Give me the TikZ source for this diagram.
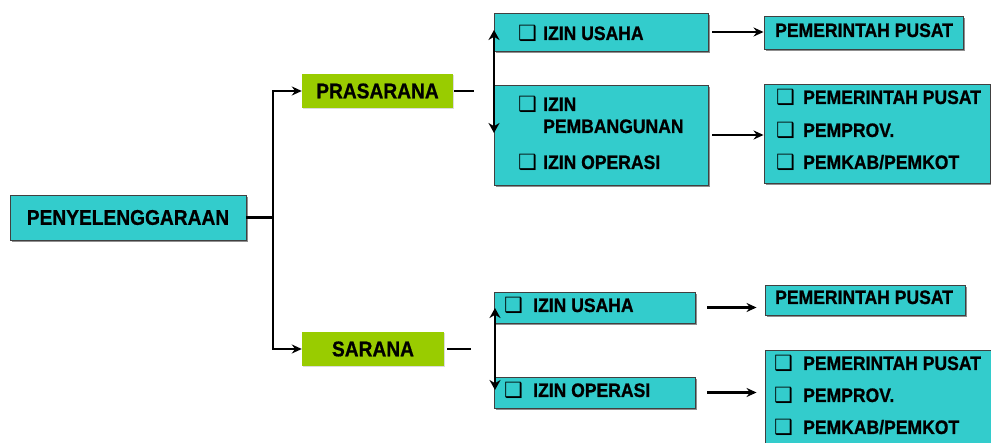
\documentclass[tikz,border=0pt]{standalone}
\usepackage{fontspec}
\setmainfont{Liberation Sans}
\newfontfamily\labfont{Liberation Sans}[FakeStretch=0.9,BoldFeatures={FakeBold=0.8}]
\newfontfamily\symfont{DejaVu Sans}
\usetikzlibrary{arrows.meta,shadows}

\definecolor{tealfill}{HTML}{33CCCC}
\definecolor{greenfill}{HTML}{99CC00}

\tikzset{
  box/.style={rectangle, draw=black!75, line width=0.9pt, fill=tealfill, inner sep=0pt,
    drop shadow={shadow xshift=1.6pt, shadow yshift=-1.6pt, fill=black!80, opacity=0.55}},
  gbox/.style={rectangle, fill=greenfill, inner sep=0pt,
    drop shadow={shadow xshift=1.2pt, shadow yshift=-1.2pt, fill=black!40, opacity=0.35}},
  big/.style={font=\labfont\bfseries\fontsize{21.3}{24}\selectfont},
  lbl/.style={font=\labfont\bfseries\fontsize{19.5}{22}\selectfont, anchor=base west, inner sep=0pt},
  chk/.style={font=\symfont\bfseries\fontsize{21}{22}\selectfont, anchor=west, inner sep=0pt},
  link/.style={line width=2.4pt, black},
  tip/.style={-{Stealth[length=10pt,width=9pt]}},
  dtip/.style={{Stealth[length=10pt,width=11pt]}-{Stealth[length=10pt,width=11pt]}}
}

\begin{document}
\begin{tikzpicture}[x=1pt,y=-1pt]
\useasboundingbox (0,0) rectangle (991,443);

% main boxes
\node[box,big,minimum width=236pt,minimum height=45pt] (pen) at (128,217.5) {PENYELENGGARAAN};
\node[gbox,big,minimum width=151pt,minimum height=34pt] (pra) at (377.5,91) {PRASARANA};
\node[gbox,big,minimum width=142pt,minimum height=34pt] (sar) at (373,349) {SARANA};

% permit boxes
\node[box,minimum width=214pt,minimum height=38pt] (iu1) at (601,32) {};
\node[box,minimum width=214pt,minimum height=100pt] (ip1) at (601,135) {};
\node[box,minimum width=201pt,minimum height=31pt] (iu2) at (594.5,307.5) {};
\node[box,minimum width=201pt,minimum height=31pt] (io2) at (594.5,392.5) {};

% authority boxes
\node[box,minimum width=199pt,minimum height=33pt] (pp1) at (863.5,32.5) {};
\node[box,minimum width=226pt,minimum height=99pt] (ls1) at (877,133.5) {};
\node[box,minimum width=200pt,minimum height=30pt] (pp2) at (865,300) {};
\node[box,minimum width=230pt,minimum height=100pt] (ls2) at (880,400) {};

% texts of the permit boxes
\node[chk] (c11) at (518,33) {❑};
\node[lbl] (t11) at (543,40) {IZIN USAHA};
\node[chk] (c12) at (518,104) {❑};
\node[lbl] (t12) at (543,111) {IZIN};
\node[lbl] (t13) at (543,133) {PEMBANGUNAN};
\node[chk] (c13) at (518,162) {❑};
\node[lbl] (t14) at (543,169) {IZIN OPERASI};
\node[chk] (c21) at (504,305) {❑};
\node[lbl] (t21) at (533,312) {IZIN USAHA};
\node[chk] (c22) at (504,390) {❑};
\node[lbl] (t22) at (533,397) {IZIN OPERASI};

% texts of the authority boxes
\node[lbl] (p1) at (775,37) {PEMERINTAH PUSAT};
\node[chk] (d11) at (776,97) {❑};
\node[lbl] (q11) at (803,104) {PEMERINTAH PUSAT};
\node[chk] (d12) at (776,130) {❑};
\node[lbl] (q12) at (803,137) {PEMPROV.};
\node[chk] (d13) at (776,162) {❑};
\node[lbl] (q13) at (803,169) {PEMKAB/PEMKOT};
\node[lbl] (p2) at (775,304) {PEMERINTAH PUSAT};
\node[chk] (d21) at (774,363) {❑};
\node[lbl] (q21) at (803,370) {PEMERINTAH PUSAT};
\node[chk] (d22) at (774,395) {❑};
\node[lbl] (q22) at (803,402) {PEMPROV.};
\node[chk] (d23) at (774,427) {❑};
\node[lbl] (q23) at (803,434) {PEMKAB/PEMKOT};

% connectors
\coordinate (J) at (273,217.5);
\draw[link] (pen.east) -- (J);
\draw[link,tip] (J) |- (pra.west);
\draw[link,tip] (J) |- (sar.west);

\coordinate (praend) at (474,91);
\draw[link] ([xshift=1pt]pra.east) -- (praend);
\coordinate (u1) at (494,30);
\coordinate (d1) at (494,133);
\draw[link,dtip] (u1) -- (d1);

\coordinate (sarend) at (471,349);
\draw[link] ([xshift=3pt]sar.east) -- (sarend);
\coordinate (u2) at (495,308);
\coordinate (d2) at (495,390);
\draw[link,dtip] (u2) -- (d2);

\draw[link,tip] ([xshift=4pt]iu1.east) -- (iu1.east -| pp1.west);
\draw[link,tip] ([xshift=4pt]ip1.east) -- (ip1.east -| ls1.west);
\draw[link,tip] ([xshift=12pt]iu2.east) -- ([xshift=-8pt]iu2.east -| pp2.west);
\draw[link,tip] ([xshift=12pt]io2.east) -- ([xshift=-8pt]io2.east -| ls2.west);
\end{tikzpicture}
\end{document}
